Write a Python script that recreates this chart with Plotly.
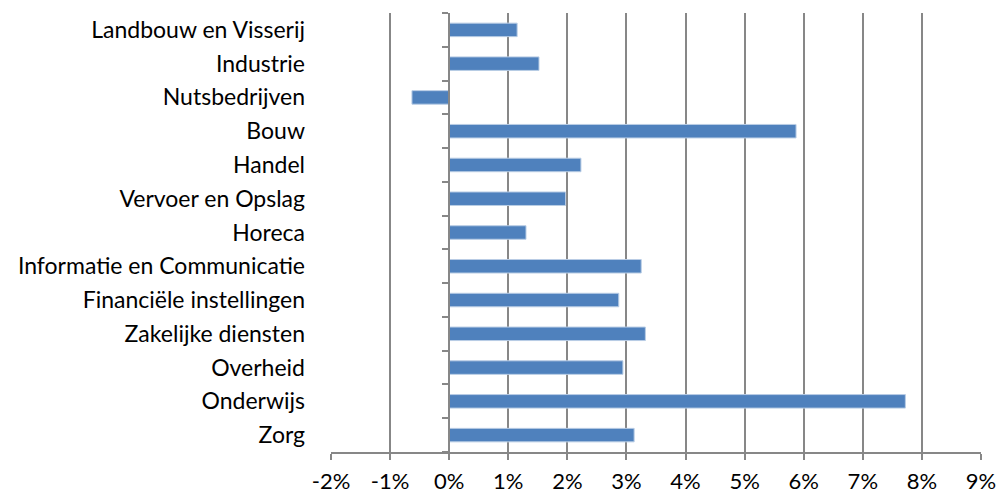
import plotly.graph_objects as go

categories = ["Landbouw en Visserij", "Industrie", "Nutsbedrijven", "Bouw", "Handel",
              "Vervoer en Opslag", "Horeca", "Informatie en Communicatie",
              "Financiële instellingen", "Zakelijke diensten", "Overheid", "Onderwijs", "Zorg"]
values = [1.15, 1.52, -0.63, 5.87, 2.23, 1.97, 1.30, 3.25, 2.87, 3.32, 2.94, 7.72, 3.13]
x_ticks = list(range(-2, 10))
x_tick_labels = [f"{t}%" for t in x_ticks]

font_family = "Lato, 'Open Sans', sans-serif"
grid_col = "#878787"

fig = go.Figure()
fig.add_trace(go.Bar(
    y=categories, x=values, orientation="h",
    marker=dict(color="#4F81BD", line=dict(color="#B9CDE5", width=1)),
    width=0.4, showlegend=False, hoverinfo="x+y",
))
# invisible trace for the axis drawn at x=0
fig.add_trace(go.Bar(y=categories, x=[0]*len(categories), orientation="h",
                     yaxis="y2", showlegend=False, hoverinfo="skip",
                     marker=dict(color="rgba(0,0,0,0)")))

zero_pos = (0 - x_ticks[0]) / (x_ticks[-1] - x_ticks[0])

fig.update_layout(
    width=997, height=493,
    margin=dict(l=331, r=16, t=13, b=41),
    paper_bgcolor="white", plot_bgcolor="white",
    font=dict(family=font_family, size=22, color="#000000"),
    xaxis=dict(
        range=[x_ticks[0], x_ticks[-1]],
        tickvals=x_ticks, ticktext=x_tick_labels,
        showgrid=True, gridcolor=grid_col, gridwidth=1.5,
        zeroline=False,
        showline=True, linecolor=grid_col, linewidth=1.5,
        ticks="outside", ticklen=6, tickcolor=grid_col, tickwidth=1.5,
        ticklabelstandoff=3,
        tickfont=dict(size=22),
        automargin=False,
        fixedrange=True,
    ),
    yaxis=dict(
        categoryorder="array", categoryarray=categories[::-1],
        showgrid=False, zeroline=False, showline=False,
        ticks="", ticklabelstandoff=25,
        tickfont=dict(size=23),
        automargin=False,
        fixedrange=True,
    ),
    yaxis2=dict(
        overlaying="y", anchor="free", position=zero_pos, side="left",
        matches="y",
        categoryorder="array", categoryarray=categories[::-1],
        showgrid=False, zeroline=False,
        showline=True, linecolor=grid_col, linewidth=1.5,
        ticks="outside", tickson="boundaries", ticklen=6, tickcolor=grid_col, tickwidth=1.5,
        showticklabels=False,
        automargin=False,
        fixedrange=True,
    ),
    bargap=0.6,
)

fig.write_html("out.html", config={"displayModeBar": False},
               post_script="document.body.style.margin='0';document.body.style.overflow='hidden';")
